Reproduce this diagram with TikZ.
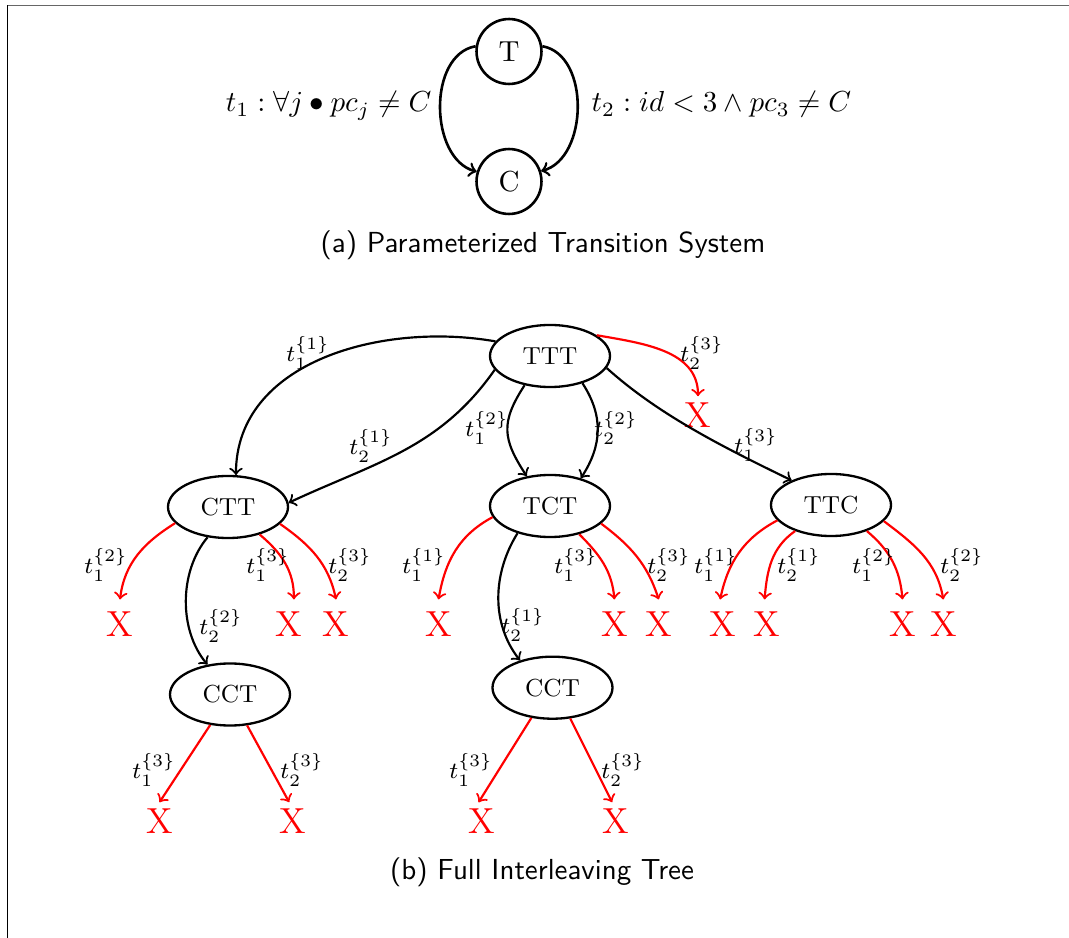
\documentclass[tikz,border=0pt]{standalone}
\usetikzlibrary{shapes.geometric}
\newcommand\tlab[2]{$t_{#1}^{\{#2\}}$}
\begin{document}
\begin{tikzpicture}[x=0.345pt, y=0.345pt,
  state/.style={circle, draw, line width=0.9pt, minimum size=22.4pt, inner sep=0pt},
  link/.style={->, line width=0.9pt},
  guard/.style={inner sep=0pt},
  conf/.style={ellipse, draw, line width=0.8pt, minimum width=41.4pt, minimum height=21.4pt,
    inner sep=0pt, font=\fontsize{8.5}{9}\selectfont},
  go/.style={->, line width=0.75pt},
  dead/.style={->, line width=0.75pt, red},
  fail/.style={text=red, font=\fontsize{12.5}{13}\selectfont, inner sep=2pt},
  wide/.style={inner sep=4pt},
  lbl/.style={inner sep=0pt, font=\fontsize{8.5}{9}\selectfont},
  subcap/.style={font=\sffamily, anchor=base, inner sep=0pt}
]
\useasboundingbox (0,0) rectangle (1069,-938);

% frame
\draw[black!60, line width=0.5pt] (7,-5.5) -- (1069,-5.5);
\draw[line width=0.6pt] (7.5,-5.5) -- (7.5,-938);

% (a) transition system
\node[state] (T) at (509,-51.5) {T};
\node[state] (C) at (509,-181.5) {C};
\draw[link] (T.171) to[out=190,in=165] (C.163);
\draw[link] (T.9) to[out=-10,in=15] (C.18);
\node[guard, anchor=base east] (g1) at (432,-112) {$t_1 : \forall j \bullet pc_j \neq C$};
\node[guard, anchor=base west] (g2) at (591,-112) {$t_2 : id < 3 \wedge pc_3 \neq C$};
\node[subcap] (capa) at (543,-253) {(a) Parameterized Transition System};

% (b) interleaving tree: configurations
\node[conf] (TTT) at (550,-356) {TTT};
\node[conf] (CTT) at (228,-507) {CTT};
\node[conf] (TCT) at (550,-506) {TCT};
\node[conf] (TTC) at (831,-505) {TTC};
\node[conf] (CCTa) at (230,-694.5) {CCT};
\node[conf] (CCTb) at (552.5,-687.7) {CCT};

% blocked transitions
\node[fail] (x0) at (698,-415) {X};
\node[fail, wide] (xa1) at (120,-624) {X};
\node[fail, wide] (xa2) at (288.7,-624) {X};
\node[fail, wide] (xa3) at (336,-624) {X};
\node[fail, wide] (xb1) at (438.5,-624) {X};
\node[fail, wide] (xb2) at (614.4,-624) {X};
\node[fail, wide] (xb3) at (658.7,-624) {X};
\node[fail, wide] (xc1) at (722.3,-624) {X};
\node[fail, wide] (xc2) at (766.7,-624) {X};
\node[fail, wide] (xc3) at (902.5,-624) {X};
\node[fail, wide] (xc4) at (943.3,-624) {X};
\node[fail] (xd1) at (159.5,-821) {X};
\node[fail] (xd2) at (292.5,-821) {X};
\node[fail] (xe1) at (481.9,-821) {X};
\node[fail] (xe2) at (615.4,-821) {X};

% moves from TTT
\draw[go] (TTT.165) to[out=170,in=90] (CTT.76);
\draw[go] (TTT.194) to[out=235,in=25] (CTT.4);
\draw[go] (TTT.229) to[out=237,in=123,looseness=1.25] (TCT.128);
\draw[go] (TTT.-40) to[out=-57,in=57,looseness=1.05] (TCT.42);
\draw[go] (TTT.-12) to[out=-42,in=154,looseness=0.85] (TTC.148);
\draw[dead] (TTT.24) to[out=-10,in=90] (x0.north);

% moves from CTT
\draw[dead] (CTT.197) to[out=212,in=83] (xa1.north);
\draw[go] (CTT.236) to[out=230,in=130,looseness=0.9] (CCTa.127);
\draw[dead] (CTT.-41) to[out=-40,in=90] (xa2.78);
\draw[dead] (CTT.-18) to[out=-35,in=102] (xa3.north);
\draw[dead] (CCTa.237) -- (xd1.north);
\draw[dead] (CCTa.-61) -- (xd2.100);

% moves from TCT
\draw[dead] (TCT.191) to[out=208,in=80] (xb1.north);
\draw[go] (TCT.220) to[out=238,in=128,looseness=0.95] (CCTb.140);
\draw[dead] (TCT.-44) to[out=-45,in=95] (xb2.north);
\draw[dead] (TCT.-19) to[out=-37,in=108] (xb3.north);
\draw[dead] (CCTb.235) -- (xe1.100);
\draw[dead] (CCTb.-60) -- (xe2.100);

% moves from TTC
\draw[dead] (TTC.196) to[out=208,in=78] (xc1.95);
\draw[dead] (TTC.216) to[out=215,in=85] (xc2.95);
\draw[dead] (TTC.-36) to[out=-40,in=95] (xc3.north);
\draw[dead] (TTC.-17) to[out=-37,in=100] (xc4.north);

% transition labels
\node[lbl] (e1) at (308,-353) {\tlab{1}{1}};
\node[lbl] (e2) at (371,-446) {\tlab{2}{1}};
\node[lbl] (e3) at (487,-428) {\tlab{1}{2}};
\node[lbl] (e4) at (616,-428) {\tlab{2}{2}};
\node[lbl] (e5) at (702,-353) {\tlab{2}{3}};
\node[lbl] (e6) at (756,-445) {\tlab{1}{3}};
\node[lbl] (e7) at (106,-565) {\tlab{1}{2}};
\node[lbl] (e8) at (221,-626) {\tlab{2}{2}};
\node[lbl] (e9) at (268,-565) {\tlab{1}{3}};
\node[lbl] (e10) at (350,-565) {\tlab{2}{3}};
\node[lbl] (e11) at (154,-770) {\tlab{1}{3}};
\node[lbl] (e12) at (302,-770) {\tlab{2}{3}};
\node[lbl] (e13) at (424,-565) {\tlab{1}{1}};
\node[lbl] (e14) at (523,-625) {\tlab{2}{1}};
\node[lbl] (e15) at (576,-565) {\tlab{1}{3}};
\node[lbl] (e16) at (669,-565) {\tlab{2}{3}};
\node[lbl] (e17) at (471,-770) {\tlab{1}{3}};
\node[lbl] (e18) at (623,-770) {\tlab{2}{3}};
\node[lbl] (e19) at (716,-565) {\tlab{1}{1}};
\node[lbl] (e20) at (799,-565) {\tlab{2}{1}};
\node[lbl] (e21) at (874,-565) {\tlab{1}{2}};
\node[lbl] (e22) at (962,-565) {\tlab{2}{2}};

\node[subcap] (capb) at (542,-879) {(b) Full Interleaving Tree};
\end{tikzpicture}
\end{document}
